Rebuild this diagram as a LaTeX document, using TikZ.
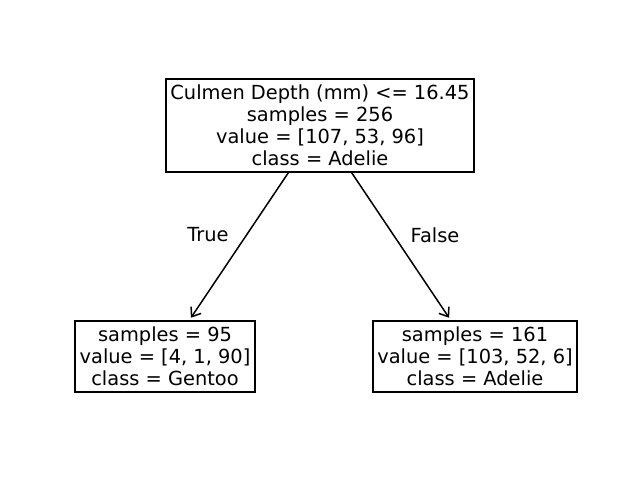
\documentclass[tikz,border=0pt]{standalone}
\usepackage{fontspec}
\setmainfont{DejaVu Sans}
\usetikzlibrary{arrows.meta}
\begin{document}
\begin{tikzpicture}[x=1pt,y=-1pt,
  box/.style={draw=black,line width=1.5pt,align=center,inner sep=0pt,font=\fontsize{19.4}{22}\selectfont},
  edge/.style={line width=1.5pt,-{Straight Barb[length=8pt,width=12pt,line width=1.5pt]},shorten >=3pt},
  lab/.style={font=\fontsize{19.4}{22}\selectfont}]
\useasboundingbox (0,0) rectangle (640,482);
\node[box,minimum width=308pt,minimum height=93pt] (root) at (320,125.5) {Culmen Depth (mm) <= 16.45\\samples = 256\\value = [107, 53, 96]\\class = Adelie};
\node[box,minimum width=180pt,minimum height=71pt] (left) at (165,356.5) {samples = 95\\value = [4, 1, 90]\\class = Gentoo};
\node[box,minimum width=204pt,minimum height=71pt] (right) at (475,356.5) {samples = 161\\value = [103, 52, 6]\\class = Adelie};
\draw[edge] (root) -- (left);
\draw[edge] (root) -- (right);
\node[lab] (t) at (208,235) {True};
\node[lab] (f) at (435,235) {False};
\end{tikzpicture}
\end{document}
